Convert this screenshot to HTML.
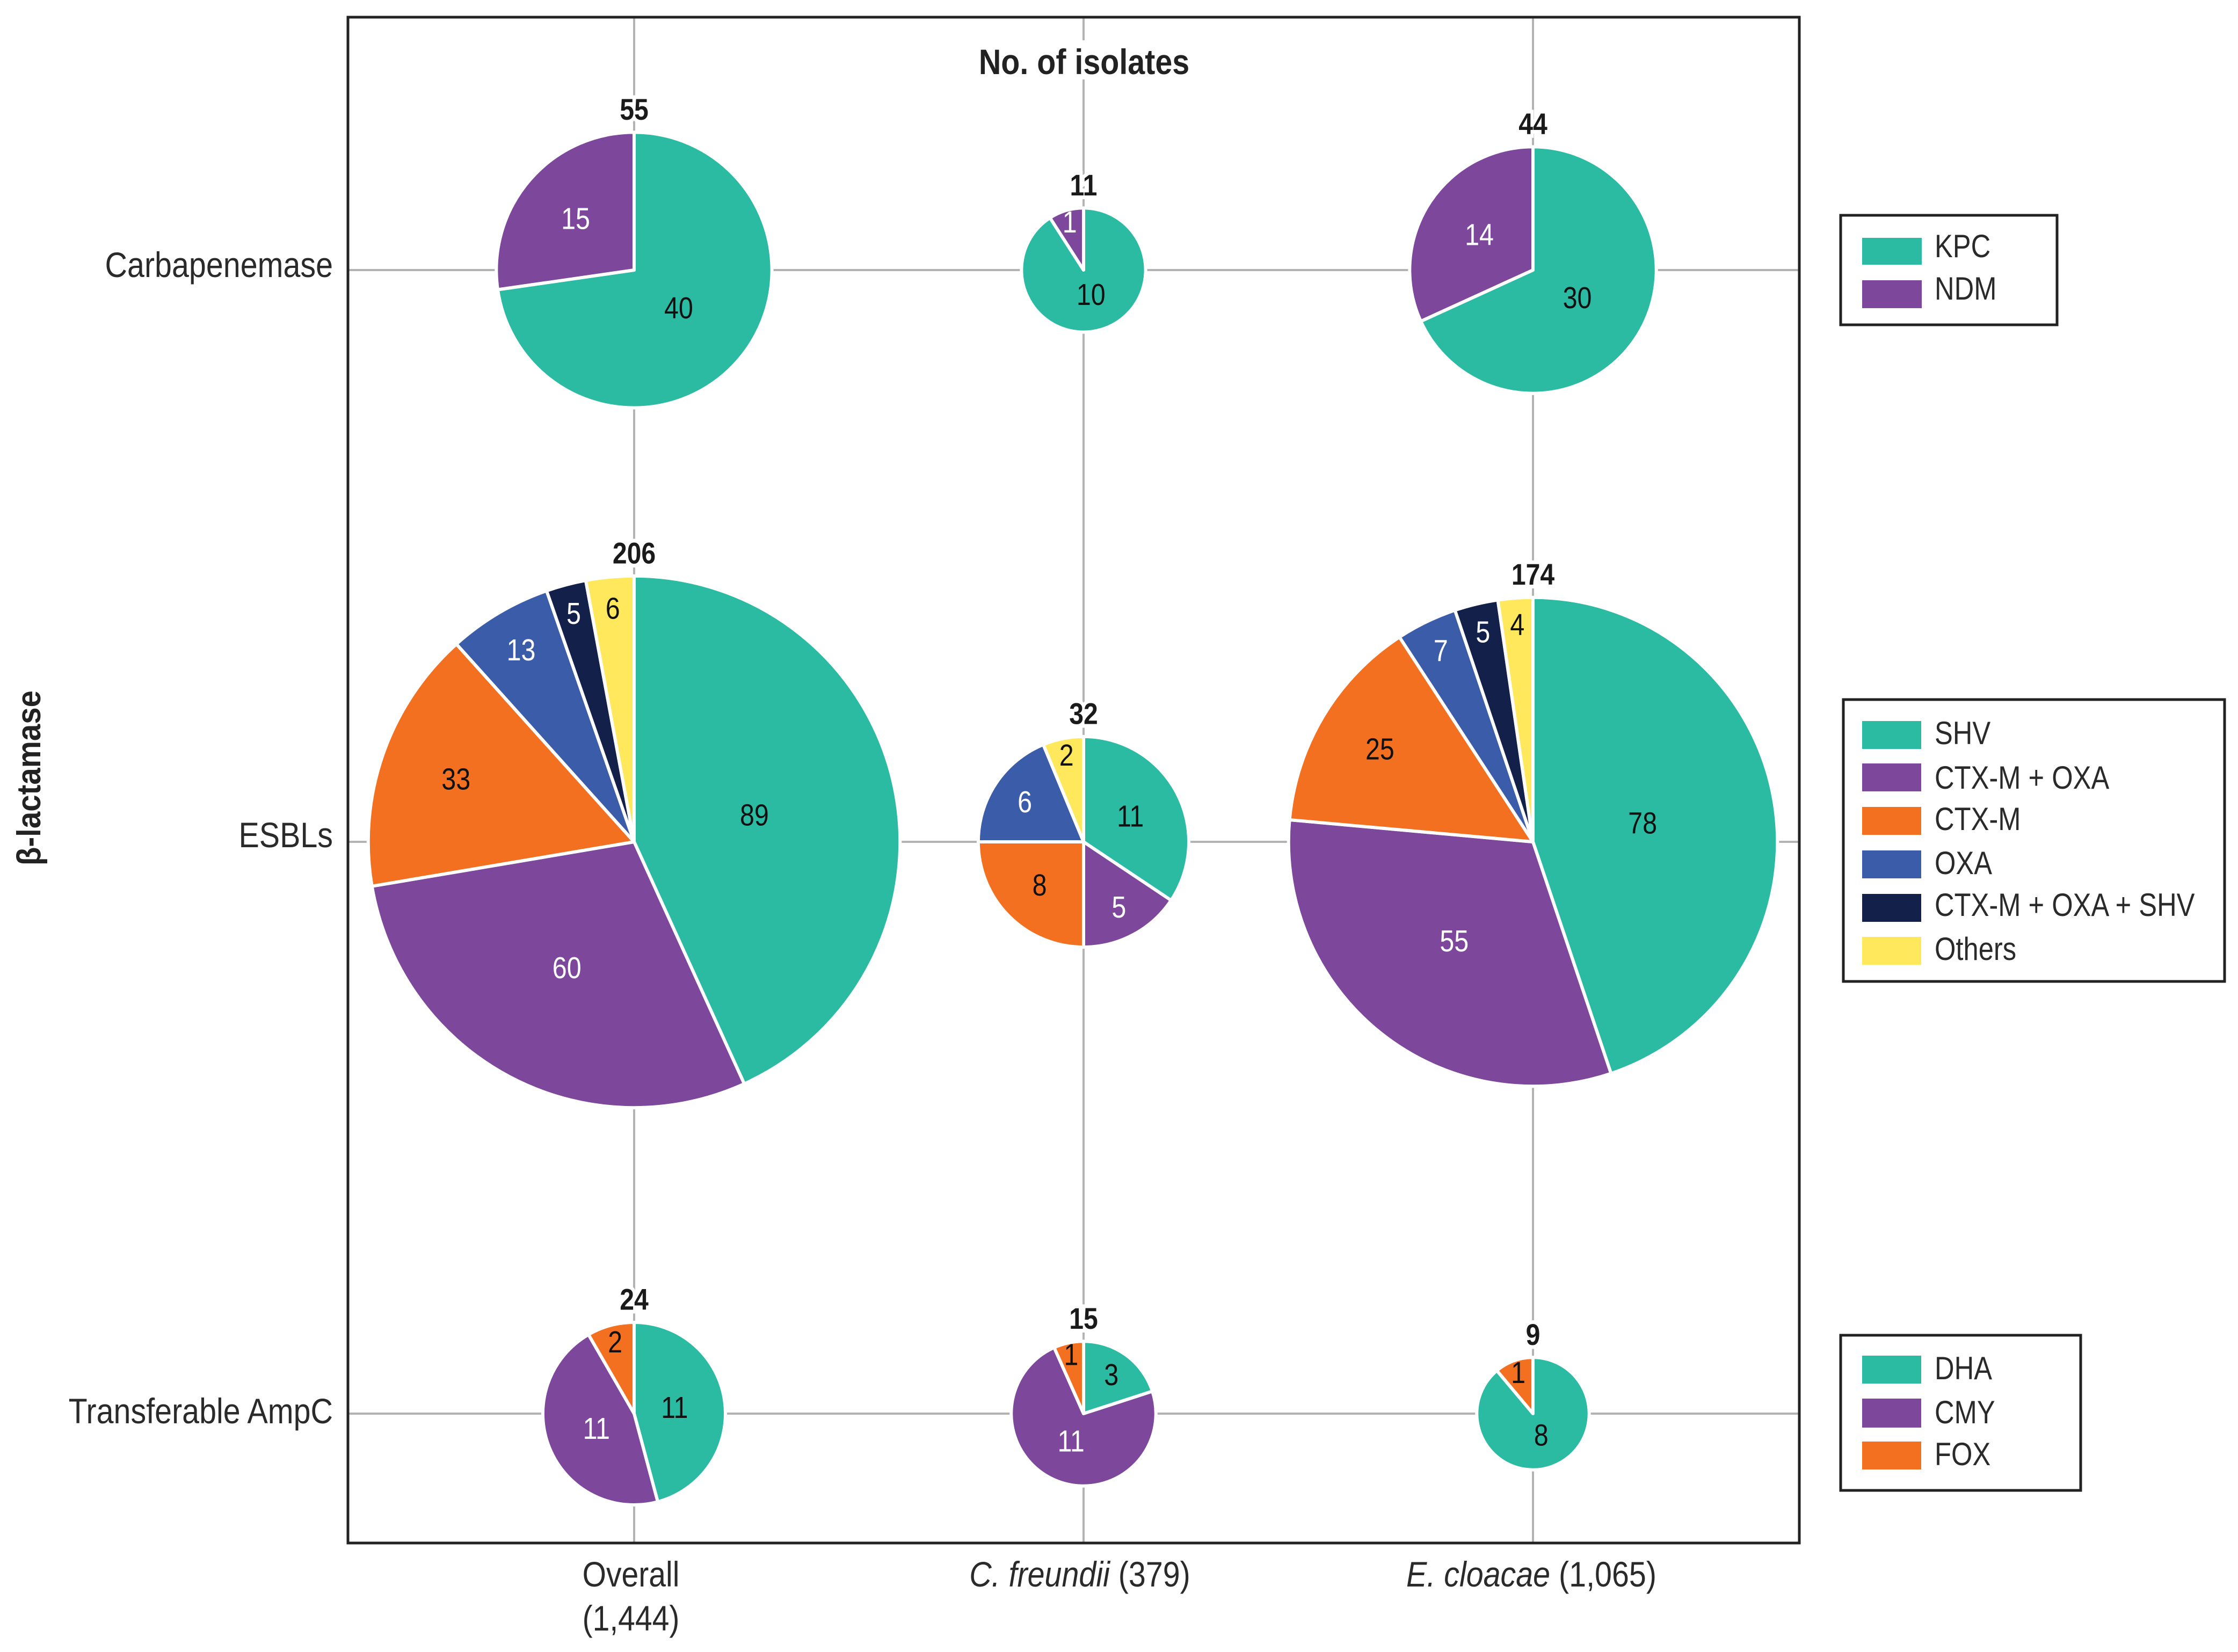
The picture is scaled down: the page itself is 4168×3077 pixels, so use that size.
<!DOCTYPE html>
<html lang="en">
<head>
<meta charset="utf-8">
<title>β-lactamase pie matrix</title>
<style>
html,body{margin:0;padding:0;background:#fff;}
svg{display:block;font-family:"Liberation Sans",Arial,sans-serif;}
.lbl{font-size:66px;fill:#2a2a2a;}
.leg{font-size:60px;fill:#2a2a2a;}
.box{fill:#fff;stroke:#222;stroke-width:5;}
</style>
</head>
<body>
<svg id="chart" xmlns="http://www.w3.org/2000/svg" width="4168" height="3077" viewBox="0 0 4168 3077">
  <rect x="0" y="0" width="4168" height="3077" fill="#fff"/>
  <g id="grid"></g>
  <rect x="648" y="32" width="2703" height="2842" fill="none" stroke="#222" stroke-width="5"/>
  <g id="pies"></g>
  <rect x="1823" y="75" width="392" height="73" fill="#fff"/>
  <text transform="translate(2019,138) scale(.87,1)" text-anchor="middle" font-size="66" font-weight="700" fill="#222">No. of isolates</text>
  <text transform="translate(75,1449) rotate(-90) scale(.91,1)" text-anchor="middle" font-size="62" font-weight="700" fill="#222">β-lactamase</text>

  <text class="lbl" transform="translate(620,516) scale(.87,1)" text-anchor="end">Carbapenemase</text>
  <text class="lbl" transform="translate(620,1578) scale(.87,1)" text-anchor="end">ESBLs</text>
  <text class="lbl" transform="translate(620,2651) scale(.87,1)" text-anchor="end">Transferable AmpC</text>

  <text class="lbl" transform="translate(1175,2955) scale(.865,1)" text-anchor="middle">Overall</text>
  <text class="lbl" transform="translate(1175,3037) scale(.865,1)" text-anchor="middle">(1,444)</text>
  <text class="lbl" transform="translate(2011,2955) scale(.87,1)" text-anchor="middle"><tspan font-style="italic">C. freundii</tspan> (379)</text>
  <text class="lbl" transform="translate(2852,2955) scale(.87,1)" text-anchor="middle"><tspan font-style="italic">E. cloacae</tspan> (1,065)</text>

  <g>
    <rect class="box" x="3428" y="401" width="403" height="204"/>
    <rect x="3468" y="443" width="111" height="50" fill="#2BBBA2"/>
    <text class="leg" transform="translate(3603,479) scale(.845,1)">KPC</text>
    <rect x="3468" y="522" width="111" height="52" fill="#7D479C"/>
    <text class="leg" transform="translate(3603,558) scale(.845,1)">NDM</text>
  </g>

  <g>
    <rect class="box" x="3433" y="1303" width="710" height="525"/>
    <rect x="3468" y="1343" width="110" height="52" fill="#2BBBA2"/>
    <text class="leg" transform="translate(3603,1386) scale(.845,1)">SHV</text>
    <rect x="3468" y="1422" width="110" height="52" fill="#7D479C"/>
    <text class="leg" transform="translate(3603,1469) scale(.845,1)">CTX-M + OXA</text>
    <rect x="3468" y="1503" width="110" height="52" fill="#F37021"/>
    <text class="leg" transform="translate(3603,1546) scale(.845,1)">CTX-M</text>
    <rect x="3468" y="1584" width="110" height="52" fill="#3B5CA8"/>
    <text class="leg" transform="translate(3603,1628) scale(.845,1)">OXA</text>
    <rect x="3468" y="1665" width="110" height="52" fill="#12204A"/>
    <text class="leg" transform="translate(3603,1706) scale(.845,1)">CTX-M + OXA + SHV</text>
    <rect x="3468" y="1745" width="110" height="52" fill="#FFE85C"/>
    <text class="leg" transform="translate(3603,1788) scale(.845,1)">Others</text>
  </g>

  <g>
    <rect class="box" x="3428" y="2487" width="447" height="289"/>
    <rect x="3468" y="2525" width="110" height="52" fill="#2BBBA2"/>
    <text class="leg" transform="translate(3603,2569) scale(.845,1)">DHA</text>
    <rect x="3468" y="2605" width="110" height="54" fill="#7D479C"/>
    <text class="leg" transform="translate(3603,2651) scale(.845,1)">CMY</text>
    <rect x="3468" y="2685" width="110" height="52" fill="#F37021"/>
    <text class="leg" transform="translate(3603,2729) scale(.845,1)">FOX</text>
  </g>
</svg>
<script>
// Chart data: [row][column][slice], columns are Overall, C. freundii, E. cloacae
const columns = ["overall", "c-freundii", "e-cloacae"];
const rows = ["carbapenemase", "esbls", "transferable-ampc"];
const carbapenemaseSeries = ["KPC", "NDM"];
const esblSeries = ["SHV", "CTX-M + OXA", "CTX-M", "OXA", "CTX-M + OXA + SHV", "Others"];
const ampcSeries = ["DHA", "CMY", "FOX"];
const carbapenemaseOverall = [40, 15];
const carbapenemaseFreundii = [10, 1];
const carbapenemaseCloacae = [30, 14];
const esblOverall = [89, 60, 33, 13, 5, 6];
const esblFreundii = [11, 5, 8, 6, 0, 2];
const esblCloacae = [78, 55, 25, 7, 5, 4];
const ampcOverall = [11, 11, 2];
const ampcFreundii = [3, 11, 1];
const ampcCloacae = [8, 0, 1];

const NS = "http://www.w3.org/2000/svg";
const gridG = document.getElementById("grid");
const piesG = document.getElementById("pies");
const teal = "#2BBBA2", purple = "#7D479C", orange = "#F37021", blue = "#3B5CA8", navy = "#12204A", yellow = "#FFE85C";
const darkFills = [purple, blue, navy];

// Axis functions
function xScale(col) { return 1181 + col * 837; }
function yScale(row) { return 503 + row * 1065; }
function rScale(total) { return 34.4 * Math.sqrt(total); }
// Distance of a slice's value label from the pie centre, as a share of the radius
function labelFraction(share) {
  if (share < 0.3) return 0.92 - 1.3 * share;
  return Math.max(0.43, 0.53 - 0.5 * (share - 0.3));
}

function make(tag, attrs, parent) {
  const el = document.createElementNS(NS, tag);
  for (const k in attrs) el.setAttribute(k, attrs[k]);
  parent.appendChild(el);
  return el;
}

// Gridlines
columns.forEach(function (name, c) {
  const line = make("line", { x1: xScale(c), x2: xScale(c), y1: 32, y2: 2874, stroke: "#b3b3b3", "stroke-width": 4 }, gridG);
  
  
});
rows.forEach(function (name, r) {
  const line = make("line", { x1: 648, x2: 3351, y1: yScale(r), y2: yScale(r), stroke: "#b3b3b3", "stroke-width": 4 }, gridG);
  
  
});

function drawPie(row, col, series, values, fills) {
  const cx = xScale(col), cy = yScale(row);
  const total = values.reduce(function (a, b) { return a + b; }, 0);
  const rVisible = rScale(total);
  const r = rVisible + 1.5;
  const g = make("g", {}, piesG);
  
  

  let cum = 0;
  const labels = [];
  values.forEach(function (v, i) {
    if (v <= 0) return;
    const a0 = cum / total * 2 * Math.PI;
    cum += v;
    const a1 = cum / total * 2 * Math.PI;
    const x0 = cx + r * Math.sin(a0), y0 = cy - r * Math.cos(a0);
    const x1 = cx + r * Math.sin(a1), y1 = cy - r * Math.cos(a1);
    const large = a1 - a0 > Math.PI ? 1 : 0;
    const d = "M" + cx + " " + cy + "L" + x0.toFixed(2) + " " + y0.toFixed(2) +
      "A" + r.toFixed(2) + " " + r.toFixed(2) + " 0 " + large + " 1 " + x1.toFixed(2) + " " + y1.toFixed(2) + "Z";
    const slice = make("path", { d: d, fill: fills[i], stroke: "#fff", "stroke-width": 6, "stroke-linejoin": "round" }, g);
    
    

    const mid = (a0 + a1) / 2;
    const frac = labelFraction(v / total);
    labels.push({ v: v, x: cx + frac * rVisible * Math.sin(mid), y: cy - frac * rVisible * Math.cos(mid) + 18, fill: darkFills.indexOf(fills[i]) >= 0 ? "#fff" : "#111" });
  });
  labels.forEach(function (l) {
    const t = make("text", { transform: "translate(" + l.x.toFixed(1) + "," + l.y.toFixed(1) + ") scale(.85,1)", "text-anchor": "middle", "font-size": 57, fill: l.fill }, g);
    t.textContent = l.v;
    
    
  });
  const tt = make("text", { transform: "translate(" + cx + "," + (cy - rVisible - 25).toFixed(1) + ") scale(.86,1)", "text-anchor": "middle", "font-size": 56, "font-weight": 700, fill: "#1a1a1a", stroke: "#fff", "stroke-width": 14, "paint-order": "stroke" }, g);
  tt.textContent = total;
  
  
}

const carbFills = [teal, purple];
const esblFills = [teal, purple, orange, blue, navy, yellow];
const ampcFills = [teal, purple, orange];
drawPie(0, 0, carbapenemaseSeries, carbapenemaseOverall, carbFills);
drawPie(0, 1, carbapenemaseSeries, carbapenemaseFreundii, carbFills);
drawPie(0, 2, carbapenemaseSeries, carbapenemaseCloacae, carbFills);
drawPie(1, 0, esblSeries, esblOverall, esblFills);
drawPie(1, 1, esblSeries, esblFreundii, esblFills);
drawPie(1, 2, esblSeries, esblCloacae, esblFills);
drawPie(2, 0, ampcSeries, ampcOverall, ampcFills);
drawPie(2, 1, ampcSeries, ampcFreundii, ampcFills);
drawPie(2, 2, ampcSeries, ampcCloacae, ampcFills);
</script>
</body>
</html>
